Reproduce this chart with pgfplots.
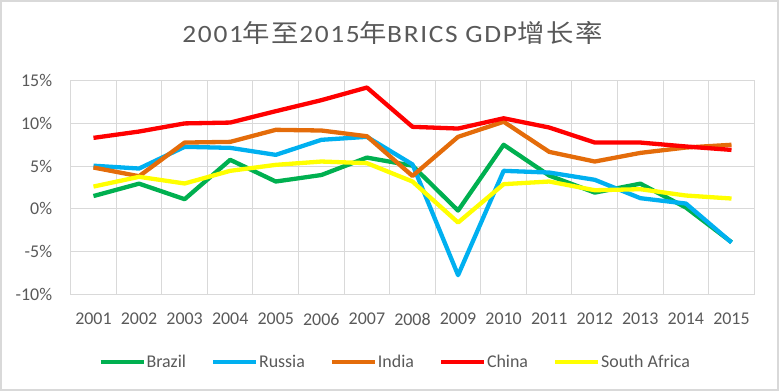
\documentclass[border=0pt]{standalone}
\usepackage{pgfplots}
\pgfplotsset{compat=1.18}
\usepackage{fontspec}
\setmainfont{Carlito}
\newfontfamily\cjk[LetterSpace=6]{Noto Sans CJK SC}
\newfontfamily\titlelatin[LetterSpace=6]{Carlito}
\definecolor{gridgray}{HTML}{D9D9D9}
\definecolor{labelgray}{HTML}{595959}
\definecolor{cgreen}{HTML}{00B050}
\definecolor{cblue}{HTML}{00B0F0}
\definecolor{corange}{HTML}{E46C0A}
\definecolor{cred}{HTML}{FF0000}
\definecolor{cyellow}{HTML}{FFFF00}
\begin{document}
\begin{tikzpicture}
\useasboundingbox (0bp,0bp) rectangle (779bp,391bp);
\draw[gridgray, line width=1.5bp] (1bp,1bp) rectangle (778bp,390bp);
\node[anchor=base, text=labelgray, inner sep=0pt] at (392.5bp,348.3bp) {\scalebox{1.1}[1]{\fontsize{25}{28}\selectfont\titlelatin 2001{\cjk 年至}2015{\cjk 年}BRICS GDP{\cjk 增长率}}};
\begin{axis}[
  at={(70.7bp,96.7bp)}, anchor=south west,
  scale only axis, width=683.6bp, height=213.6bp,
  xmin=2000.5, xmax=2015.5, ymin=-10, ymax=15,
  xtick={2001,...,2015},
  xticklabels={2001,2002,2003,2004,2005,2006,2007,2008,2009,2010,2011,2012,2013,2014,2015},
  minor xtick={2000.5,2001.5,...,2015.5},
  xminorgrids, ymajorgrids,
  ytick={-10,-5,0,5,10,15},
  yticklabels={-10\%,-5\%,0\%,5\%,10\%,15\%},
  major tick length=0pt, minor tick length=0pt,
  axis line style={draw=gridgray, line width=1bp},
  grid style={draw=gridgray, line width=1bp},
  minor grid style={draw=gridgray, line width=1bp},
  tick label style={font=\fontsize{18}{20}\selectfont, text=labelgray, inner sep=0pt},
  yticklabel style={xshift=-18.4bp},
  xticklabel style={yshift=-18.4bp},
  every axis plot/.append style={line width=4.3bp, line join=round, mark=none},
  legend style={at={(0.474,-0.317)}, anchor=center, draw=none, fill=none,
    legend columns=5, font=\fontsize{18}{20}\selectfont, text=labelgray,
    inner sep=0pt, nodes={inner sep=1bp},
    /tikz/every even column/.append style={column sep=24bp}},
  legend image code/.code={\draw[#1, line width=4bp] (0bp,0bp) -- (43bp,0bp);},
]
\addplot[cgreen] coordinates {(2001,1.5) (2002,2.95) (2003,1.13) (2004,5.74) (2005,3.2) (2006,3.96) (2007,6.0) (2008,5.05) (2009,-0.2) (2010,7.5) (2011,3.9) (2012,1.9) (2013,2.95) (2014,0.15) (2015,-3.9)};
\addlegendentry{Brazil}
\addplot[cblue] coordinates {(2001,5.05) (2002,4.72) (2003,7.26) (2004,7.14) (2005,6.32) (2006,8.08) (2007,8.43) (2008,5.2) (2009,-7.76) (2010,4.45) (2011,4.25) (2012,3.4) (2013,1.25) (2014,0.62) (2015,-3.94)};
\addlegendentry{Russia}
\addplot[corange] coordinates {(2001,4.84) (2002,3.82) (2003,7.76) (2004,7.84) (2005,9.25) (2006,9.17) (2007,8.5) (2008,3.85) (2009,8.43) (2010,10.2) (2011,6.67) (2012,5.54) (2013,6.55) (2014,7.18) (2015,7.5)};
\addlegendentry{India}
\addplot[cred] coordinates {(2001,8.31) (2002,9.05) (2003,10.0) (2004,10.1) (2005,11.43) (2006,12.72) (2007,14.2) (2008,9.6) (2009,9.4) (2010,10.6) (2011,9.52) (2012,7.76) (2013,7.76) (2014,7.3) (2015,6.9)};
\addlegendentry{China}
\addplot[cyellow] coordinates {(2001,2.61) (2002,3.75) (2003,2.97) (2004,4.45) (2005,5.15) (2006,5.54) (2007,5.35) (2008,3.2) (2009,-1.6) (2010,2.89) (2011,3.2) (2012,2.18) (2013,2.3) (2014,1.56) (2015,1.21)};
\addlegendentry{South Africa}
\end{axis}
\end{tikzpicture}
\end{document}
